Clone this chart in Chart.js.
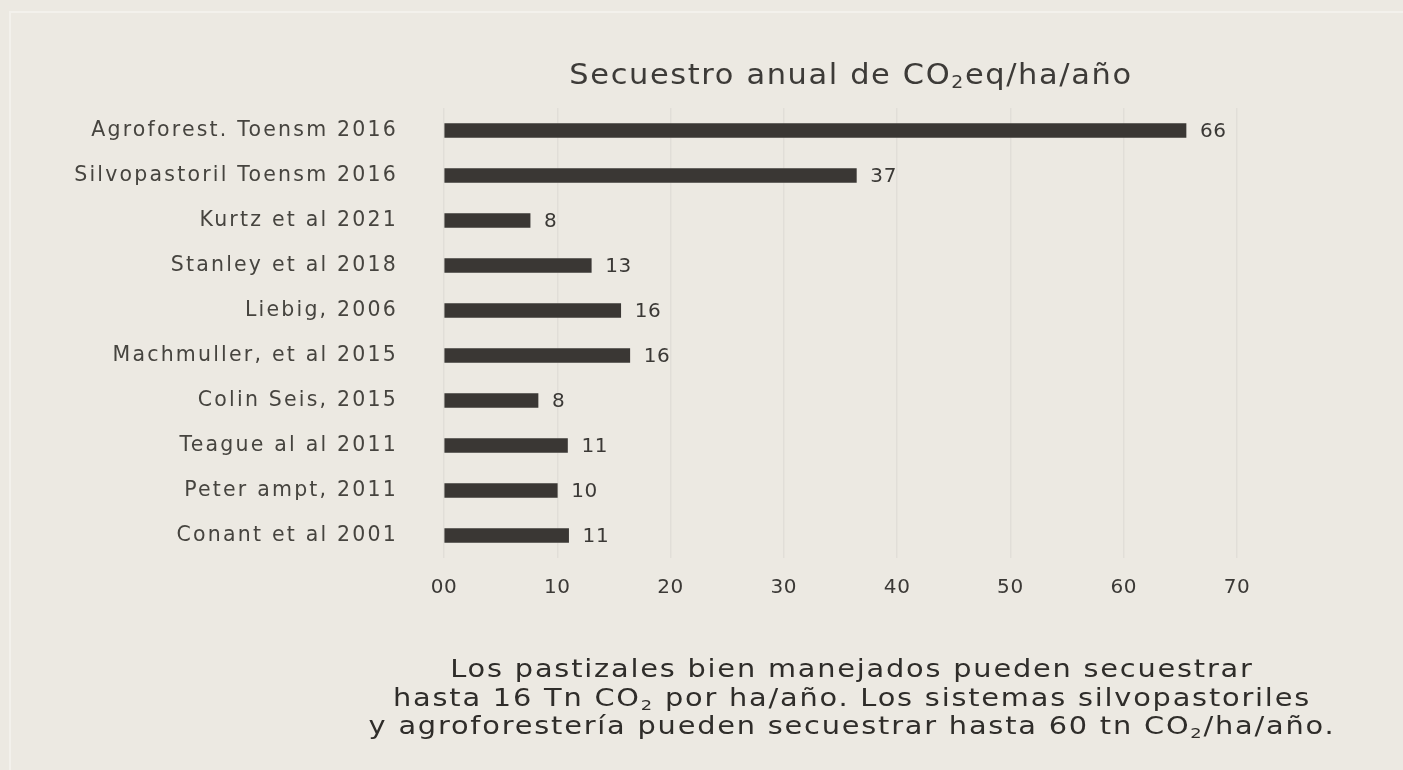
<!DOCTYPE html>
<html>
<head>
<meta charset="utf-8">
<script src="https://cdn.jsdelivr.net/npm/chart.js@4.4.1/dist/chart.umd.min.js"></script>
<style>
  html, body { margin: 0; padding: 0; background: #ece9e2; }
  #wrap { position: relative; width: 1403px; height: 770px; overflow: hidden; background: #ece9e2; }
  #frame { position: absolute; left: 9px; top: 11px; right: -10px; bottom: -10px; border-left: 2px solid #f3f1ec; border-top: 2px solid #f3f1ec; }
  #chart { position: absolute; left: 0; top: 0; }
  .title { position: absolute; left: 351px; width: 1000px; top: 58px; text-align: center; font-family: "DejaVu Sans", sans-serif; font-size: 28px; letter-spacing: 1.5px; color: #3d3b38; white-space: nowrap; transform: scaleX(1.087); transform-origin: 50% 50%; }
  .note { position: absolute; left: 352px; width: 1000px; top: 655px; text-align: center; font-family: "DejaVu Sans", sans-serif; font-size: 24px; line-height: 28.5px; letter-spacing: 1.5px; color: #2f2d2a; white-space: nowrap; transform: scaleX(1.2); transform-origin: 50% 50%; }
  sub { font-size: 0.62em; vertical-align: -0.25em; line-height: 0; }
</style>
</head>
<body>
<div id="wrap">
  <div id="frame"></div>
  <canvas id="chart" width="1403" height="770"></canvas>
  <div class="title">Secuestro anual de CO<sub>2</sub>eq/ha/año</div>
  <div class="note">Los pastizales bien manejados pueden secuestrar<br>hasta 16 Tn CO<sub>2</sub> por ha/año. Los sistemas silvopastoriles<br>y agroforestería pueden secuestrar hasta 60 tn CO<sub>2</sub>/ha/año.</div>
</div>
<script>
const categories = [
  "Agroforest. Toensm 2016",
  "Silvopastoril Toensm 2016",
  "Kurtz et al 2021",
  "Stanley et al 2018",
  "Liebig, 2006",
  "Machmuller, et al 2015",
  "Colin Seis, 2015",
  "Teague al al 2011",
  "Peter ampt, 2011",
  "Conant et al 2001"
];
const barValues = [65.5, 36.4, 7.6, 13.0, 15.6, 16.4, 8.3, 10.9, 10.0, 11.0];
const valueLabels = ["66", "37", "8", "13", "16", "16", "8", "11", "10", "11"];
const xTicks = [0, 10, 20, 30, 40, 50, 60, 70];
const xTickLabels = ["00", "10", "20", "30", "40", "50", "60", "70"];

const FONT = '"DejaVu Sans", sans-serif';
const INK = '#3b3936';

const spacingPlugin = {
  id: 'spacing',
  beforeDraw(chart) { chart.ctx.letterSpacing = '2.2px'; }
};

const valueLabelPlugin = {
  id: 'valueLabels',
  afterDatasetsDraw(chart) {
    const ctx = chart.ctx;
    const meta = chart.getDatasetMeta(0);
    ctx.letterSpacing = '0.6px';
    ctx.save();
    ctx.font = '20px ' + FONT;
    ctx.fillStyle = INK;
    ctx.textAlign = 'left';
    ctx.textBaseline = 'middle';
    meta.data.forEach((bar, i) => {
      ctx.fillText(valueLabels[i], bar.x + 14, bar.y + 1);
    });
    ctx.restore();
  }
};

new Chart(document.getElementById('chart'), {
  type: 'bar',
  data: {
    labels: categories,
    datasets: [{
      data: barValues,
      backgroundColor: '#3a3734',
      borderWidth: 0,
      barThickness: 14
    }]
  },
  options: {
    indexAxis: 'y',
    responsive: false,
    animation: false,
    devicePixelRatio: 1,
    layout: { padding: { left: 0, right: 166, top: 108, bottom: 0 } },
    plugins: { legend: { display: false }, tooltip: { enabled: false }, title: { display: false } },
    scales: {
      x: {
        min: 0, max: 70,
        afterBuildTicks(scale) { scale.ticks = xTicks.map(v => ({ value: v })); },
        afterFit(scale) { scale.height = 770 - 108 - 450; },
        grid: { color: 'rgba(0,0,0,0.045)', lineWidth: 1.5, drawTicks: false },
        border: { display: false },
        ticks: {
          z: 1,
          padding: 18,
          color: INK,
          font: { family: FONT, size: 20 },
          callback: (v) => xTickLabels[xTicks.indexOf(v)]
        }
      },
      y: {
        afterFit(scale) { scale.width = 444; },
        grid: { display: false },
        border: { display: false },
        ticks: {
          padding: 38,
          color: '#46443f',
          font: { family: FONT, size: 20.5 }
        }
      }
    }
  },
  plugins: [spacingPlugin, valueLabelPlugin]
});
</script>
</body>
</html>
